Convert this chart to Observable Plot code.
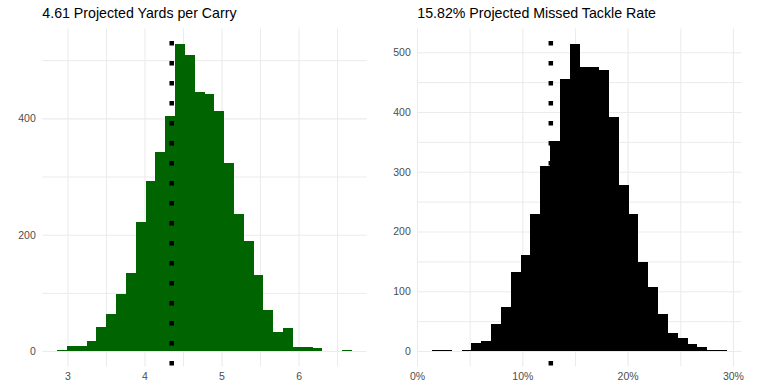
<!DOCTYPE html>
<html>
<head>
<meta charset="utf-8">
<script src="https://cdn.jsdelivr.net/npm/d3@7"></script>
<script src="https://cdn.jsdelivr.net/npm/@observablehq/plot@0.6"></script>
<style>
  html, body { margin: 0; padding: 0; background: #fff; }
  #wrap { position: relative; width: 779px; height: 385px; overflow: hidden; font-family: "Liberation Sans", Arial, sans-serif; }
  .panel { position: absolute; top: 0; }
  .title { position: absolute; top: 5px; font-size: 14.2px; color: #000; white-space: nowrap; }
</style>
</head>
<body>
<div id="wrap"></div>
<script>
// ---- Data ----
const ypcTitle = "4.61 Projected Yards per Carry";
const ypcBinStart = 2.865;
const ypcBinWidth = 0.1276;
const ypcCounts = [2, 9, 9, 17, 42, 64, 98, 134, 222, 292, 342, 404, 528, 509, 446, 442, 413, 323, 236, 189, 131, 70, 33, 40, 7, 7, 5, 0, 0, 2];
const ypcLine = 4.347;
const ypcXTicks = [3, 4, 5, 6];
const ypcXMinor = [3.5, 4.5, 5.5, 6.5];
const ypcYTicks = [0, 200, 400];
const ypcYMinor = [100, 300, 500];

const mtrTitle = "15.82% Projected Missed Tackle Rate";
const mtrBinStart = 0.0143;
const mtrBinWidth = 0.009334;
const mtrCounts = [2, 2, 0, 2, 13, 17, 45, 74, 132, 161, 230, 310, 352, 456, 514, 476, 476, 471, 392, 277, 230, 149, 107, 62, 30, 22, 12, 7, 2, 2];
const mtrLine = 0.1266;
const mtrXTicks = [0, 0.1, 0.2, 0.3];
const mtrXMinor = [0.05, 0.15, 0.25];
const mtrYTicks = [0, 100, 200, 300, 400, 500];
const mtrYMinor = [50, 150, 250, 350, 450];

const GRID = "#EBEBEB";
const TEXT = "#4D4D4D";

function bins(start, width, counts) {
  return counts.map((c, i) => ({x1: start + i * width, x2: start + (i + 1) * width, count: c}));
}

function panel({data, fill, vline, xTicks, xMinor, yTicks, yMinor, xFormat, width, marginLeft, marginRight}) {
  const lo = d3.min(data, d => d.x1), hi = d3.max(data, d => d.x2);
  const span = hi - lo;
  const maxC = d3.max(data, d => d.count);
  const yDom = [-0.05 * maxC, 1.05 * maxC];
  return Plot.plot({
    width, height: 385,
    marginLeft, marginRight, marginTop: 28.5, marginBottom: 18.6,
    style: {fontFamily: '"Liberation Sans", Arial, sans-serif', fontSize: "10.5px", color: TEXT, background: "transparent"},
    x: {domain: [lo - 0.05 * span, hi + 0.05 * span], ticks: xTicks, tickSize: 0, tickPadding: 6, tickFormat: xFormat, label: null},
    y: {domain: yDom, ticks: yTicks, tickSize: 0, tickPadding: 7, label: null},
    marks: [
      Plot.ruleX(xMinor, {stroke: GRID, strokeWidth: 1}),
      Plot.ruleY(yMinor, {stroke: GRID, strokeWidth: 1}),
      Plot.ruleX(xTicks, {stroke: GRID, strokeWidth: 1.1}),
      Plot.ruleY(yTicks, {stroke: GRID, strokeWidth: 1.1}),
      Plot.rectY(data, {x1: "x1", x2: "x2", y: "count", fill, inset: 0, shapeRendering: "crispEdges"}),
      Plot.ruleX([vline], {y1: yDom[0], y2: yDom[1], stroke: "#000", strokeWidth: 4.5, strokeDasharray: "4.5,15.5", strokeDashoffset: -1})
    ]
  });
}

const wrap = document.getElementById("wrap");

const left = panel({
  data: bins(ypcBinStart, ypcBinWidth, ypcCounts), fill: "#006400", vline: ypcLine,
  xTicks: ypcXTicks, xMinor: ypcXMinor, yTicks: ypcYTicks, yMinor: ypcYMinor,
  xFormat: d3.format("d"), width: 380, marginLeft: 42.3, marginRight: 13.3
});
left.classList.add("panel");
left.style.left = "0px";
wrap.appendChild(left);

const right = panel({
  data: bins(mtrBinStart, mtrBinWidth, mtrCounts), fill: "#000000", vline: mtrLine,
  xTicks: mtrXTicks, xMinor: mtrXMinor, yTicks: mtrYTicks, yMinor: mtrYMinor,
  xFormat: d3.format(".0%"), width: 399, marginLeft: 37.3, marginRight: 37.3
});
right.classList.add("panel");
right.style.left = "380px";
wrap.appendChild(right);

const t1 = document.createElement("div");
t1.className = "title"; t1.textContent = ypcTitle; t1.style.left = "42.3px";
wrap.appendChild(t1);
const t2 = document.createElement("div");
t2.className = "title"; t2.textContent = mtrTitle; t2.style.left = "417.3px";
wrap.appendChild(t2);
</script>
</body>
</html>
